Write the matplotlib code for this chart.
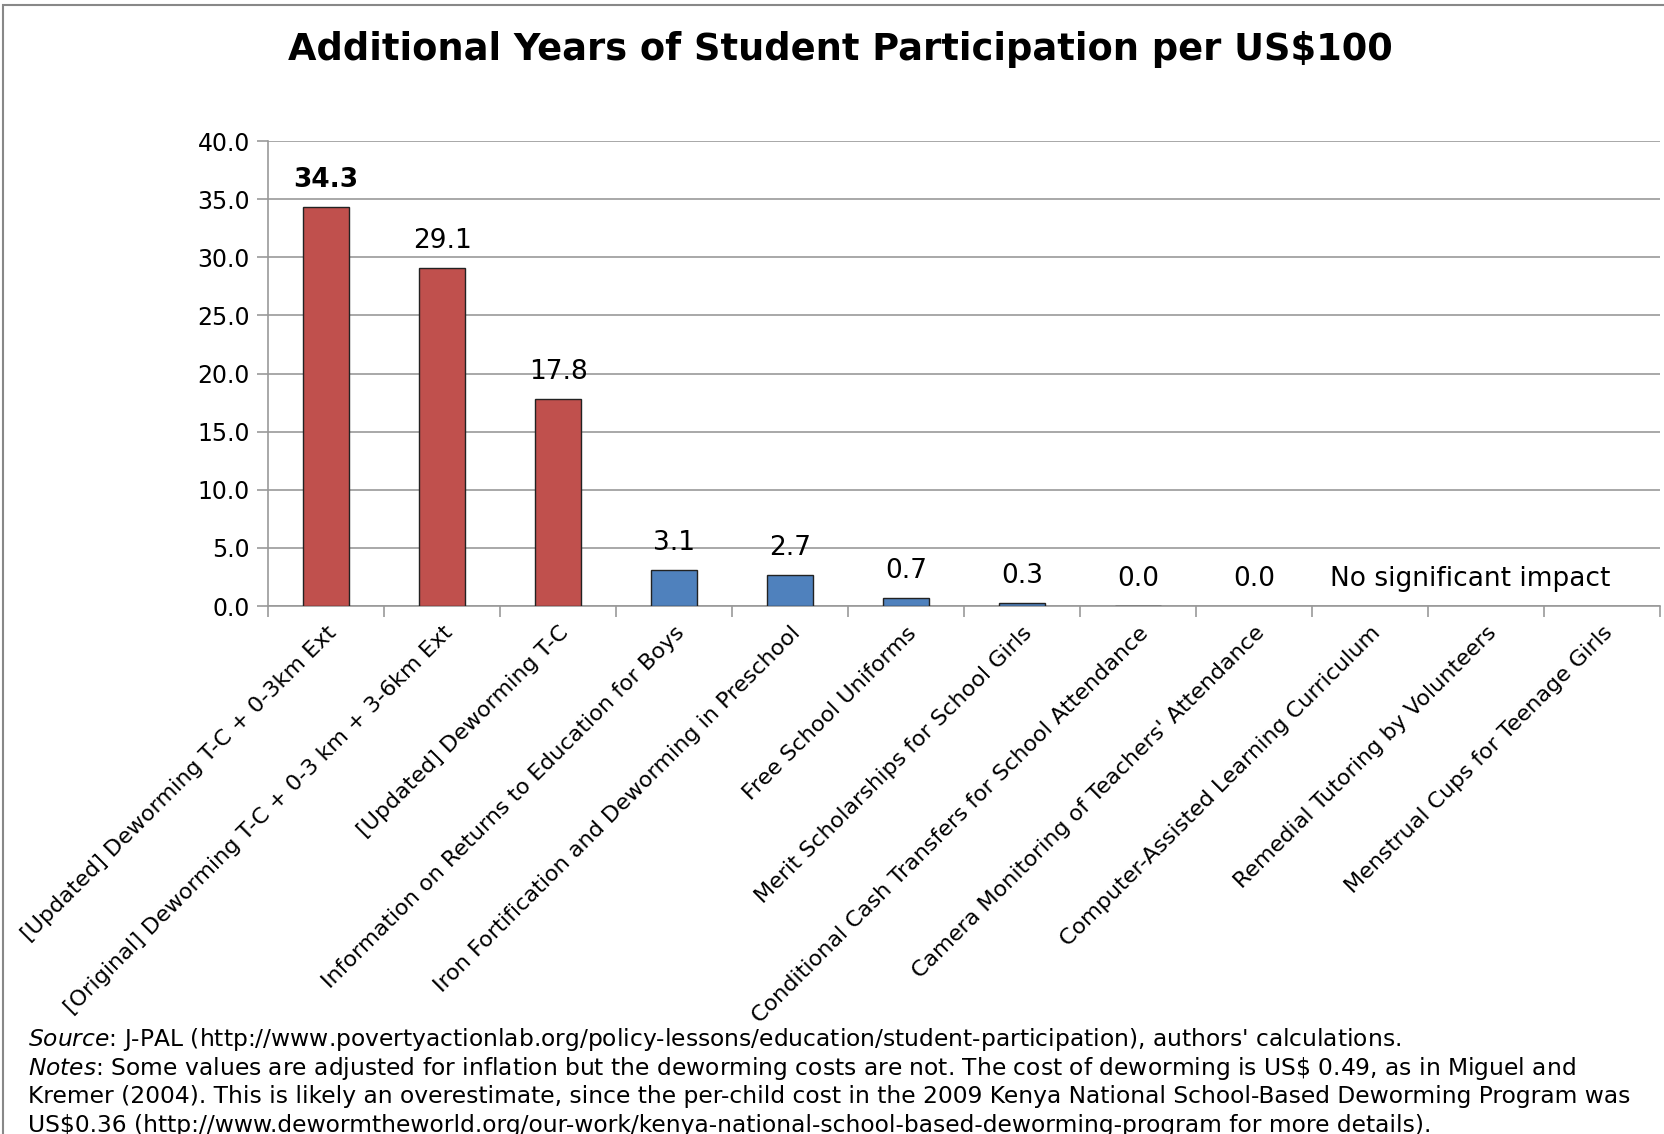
import numpy as np
import matplotlib.pyplot as plt
from matplotlib.patches import Rectangle

categories = [
    "[Updated] Deworming T-C + 0-3km Ext",
    "[Original] Deworming T-C + 0-3 km + 3-6km Ext",
    "[Updated] Deworming T-C",
    "Information on Returns to Education for Boys",
    "Iron Fortification and Deworming in Preschool",
    "Free School Uniforms",
    "Merit Scholarships for School Girls",
    "Conditional Cash Transfers for School Attendance",
    "Camera Monitoring of Teachers' Attendance",
    "Computer-Assisted Learning Curriculum",
    "Remedial Tutoring by Volunteers",
    "Menstrual Cups for Teenage Girls",
]
values = [34.3, 29.1, 17.8, 3.1, 2.7, 0.7, 0.3, 0.04, 0.0, 0.0, 0.0, 0.0]
labels = ["34.3", "29.1", "17.8", "3.1", "2.7", "0.7", "0.3", "0.0", "0.0", "", "", ""]
deworming = [True, True, True] + [False] * 9
no_impact_text = "No significant impact"

title = "Additional Years of Student Participation per US$100"
footer = [
    r"$\it{Source}$: J-PAL (http://www.povertyactionlab.org/policy-lessons/education/student-participation), authors' calculations.",
    r"$\it{Notes}$: Some values are adjusted for inflation but the deworming costs are not. The cost of deworming is US\$ 0.49, as in Miguel and",
    "Kremer (2004). This is likely an overestimate, since the per-child cost in the 2009 Kenya National School-Based Deworming Program was",
    "US$0.36 (http://www.dewormtheworld.org/our-work/kenya-national-school-based-deworming-program for more details).",
]

red = "#C0504D"
blue = "#4F81BD"
grey = "#999999"

fig = plt.figure(figsize=(16.65, 11.34), dpi=100)
ax = fig.add_axes([0.161, 0.4656, 0.836, 0.41])

x = np.arange(len(categories))
colors = [red if d else blue for d in deworming]
lws = [1.0 if v > 0 else 0 for v in values]
ax.bar(x, values, width=0.4, color=colors, edgecolor="#222222", linewidth=lws, zorder=3)

for i, (v, lab) in enumerate(zip(values, labels)):
    if not lab:
        continue
    ax.annotate(lab, (i, v), xytext=(0, 10), textcoords="offset points",
                ha="center", va="bottom", fontsize=19,
                fontweight="bold" if i == 0 else "normal")
ax.annotate(no_impact_text, (9.86, 0), xytext=(0, 10), textcoords="offset points",
            ha="center", va="bottom", fontsize=19)

ax.set_xlim(-0.5, len(categories) - 0.5)
ax.set_ylim(0, 40)
ax.set_yticks(np.arange(0, 41, 5))
ax.set_yticklabels([f"{t:.1f}" for t in np.arange(0, 41, 5)], fontsize=17)
ax.yaxis.grid(True, color=grey, linewidth=1.2, zorder=0)
ax.set_axisbelow(True)

ax.set_xticks(x)
ax.set_xticklabels(categories, rotation=45, ha="right", rotation_mode="anchor", fontsize=16)
ax.set_xticks(np.arange(-0.5, len(categories), 1), minor=True)
ax.tick_params(axis="x", which="major", length=0, pad=12)
ax.tick_params(axis="x", which="minor", length=8, color=grey, width=1.2)
ax.tick_params(axis="y", length=8, color=grey, width=1.2, pad=5)

for s in ["top", "right"]:
    ax.spines[s].set_visible(False)
for s in ["left", "bottom"]:
    ax.spines[s].set_color(grey)
    ax.spines[s].set_linewidth(1.2)

fig.text(0.505, 0.956, title, ha="center", va="center", fontsize=26.5, fontweight="bold")

for k, line in enumerate(footer):
    fig.text(0.017, 0.0835 - k * 0.0253, line, ha="left", va="center", fontsize=16.8)

fig.patches.append(Rectangle((0.002, -0.01), 1.1, 1.006, transform=fig.transFigure,
                             fill=False, edgecolor="#888888", linewidth=1.5))

fig.savefig("out.png", dpi=100)
